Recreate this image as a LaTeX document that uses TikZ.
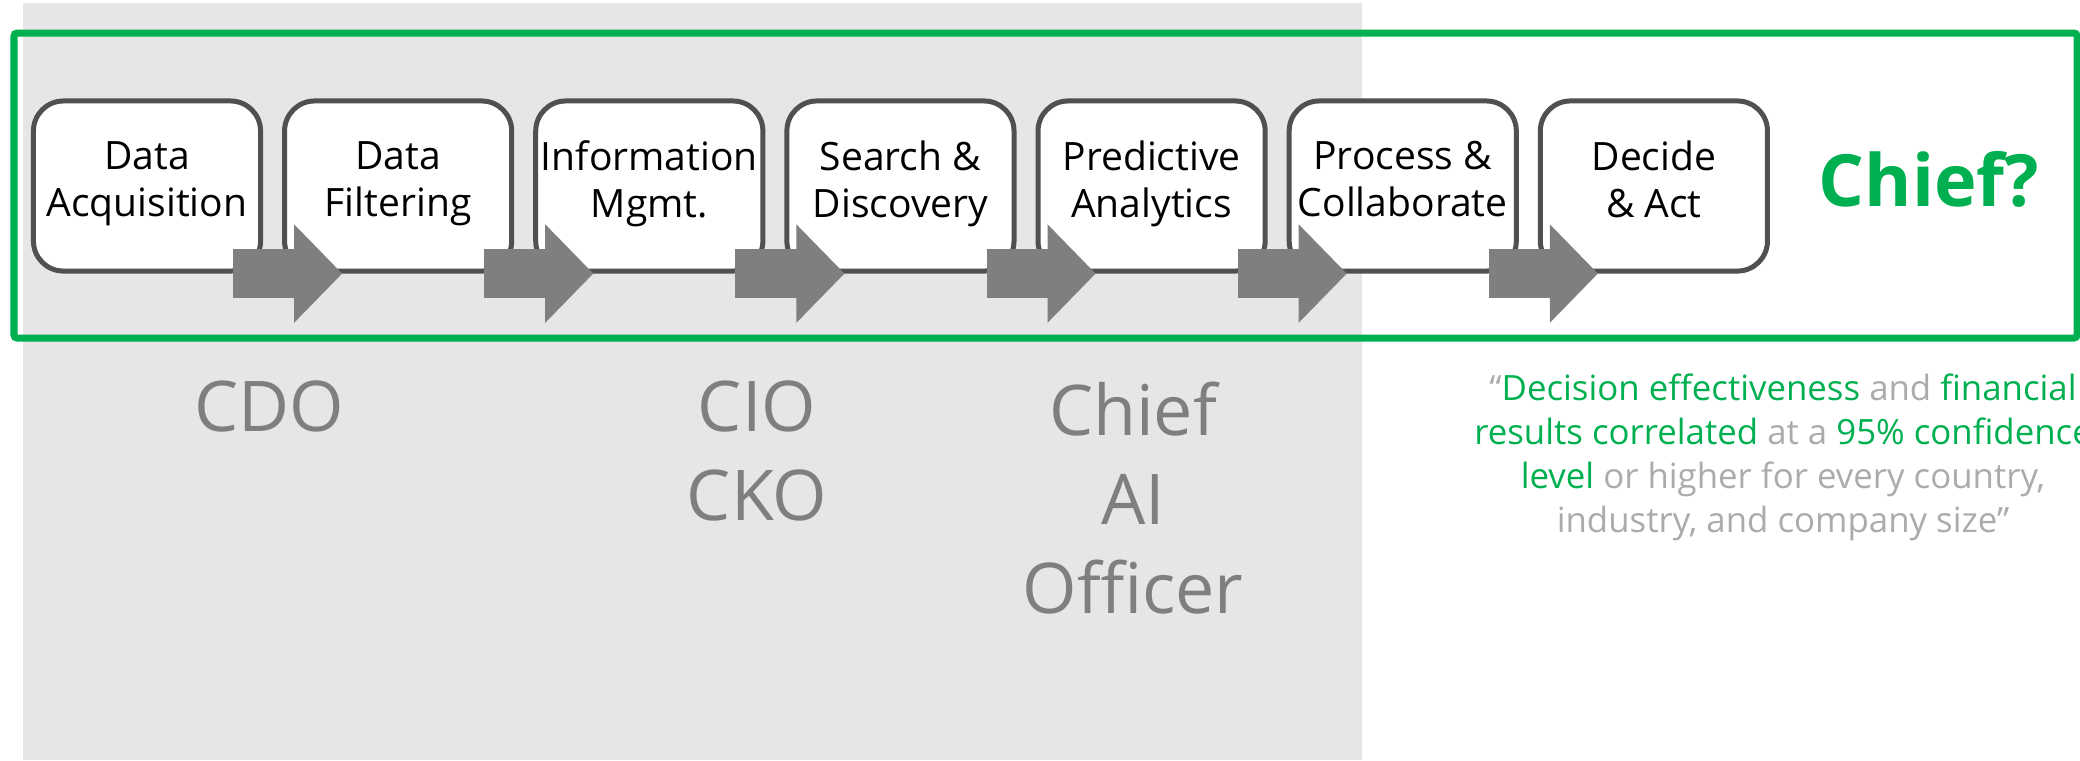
\documentclass[tikz,border=0pt]{standalone}
\usepackage{fontspec}
\setmainfont{Open Sans}
\usetikzlibrary{positioning, calc, arrows.meta}
\definecolor{offgreen}{HTML}{00B050}
\definecolor{boxline}{HTML}{505050}
\definecolor{arrgray}{HTML}{7F7F7F}
\definecolor{panelgray}{HTML}{E7E6E6}
\definecolor{rolegray}{HTML}{7F7F7F}
\definecolor{quotegray}{HTML}{ABABAB}
\tikzset{stage/.style={draw=boxline, line width=0.05cm, fill=white, rounded corners=0.3cm, minimum width=2.27cm, minimum height=1.70cm, inner sep=0.02cm, align=center, font=\fontsize{11.1}{13.4}\selectfont, execute at end node=\strut}}
\tikzset{blockarr/.style={draw=arrgray, line width=0.49cm, -{Triangle[length=0.48cm, width=0.98cm, line width=0.02cm]}}}
\tikzset{role/.style={text=rolegray, align=center, font=\fontsize{19.9}{25.3}\selectfont}}
\tikzset{quote/.style={text=quotegray, align=center, font=\fontsize{9.9}{12.5}\selectfont}}
\newcommand{\hl}[1]{\textcolor{offgreen}{#1}}

\begin{document}
\begin{tikzpicture}[x=0.01cm, y=0.01cm]
			\useasboundingbox (0,0) rectangle (2080,-760);
			\fill[panelgray] (23,-3) rectangle (1362,-760);
			\draw[offgreen, line width=0.07cm, rounded corners=0.03cm] (14,-33) rectangle (2077,-338);
			%
			\node[stage] (acq) at (147,-186) {Data\\Acquisition};
			\node[stage, right=0.19cm of acq] (filt) {Data\\Filtering};
			\node[stage, right=0.19cm of filt] (info) {Information\\Mgmt.};
			\node[stage, right=0.19cm of info] (srch) {Search \&\\Discovery};
			\node[stage, right=0.19cm of srch] (pred) {Predictive\\Analytics};
			\node[stage, right=0.19cm of pred] (proc) {Process \&\\Collaborate};
			\node[stage, right=0.19cm of proc] (dec) {Decide\\\& Act};
			%
			\draw[blockarr] ([xshift=-0.3cm]acq.south east) -- ([xshift=0.6cm]filt.south west);
			\draw[blockarr] ([xshift=-0.3cm]filt.south east) -- ([xshift=0.6cm]info.south west);
			\draw[blockarr] ([xshift=-0.3cm]info.south east) -- ([xshift=0.6cm]srch.south west);
			\draw[blockarr] ([xshift=-0.3cm]srch.south east) -- ([xshift=0.6cm]pred.south west);
			\draw[blockarr] ([xshift=-0.3cm]pred.south east) -- ([xshift=0.6cm]proc.south west);
			\draw[blockarr] ([xshift=-0.3cm]proc.south east) -- ([xshift=0.6cm]dec.south west);
			%
			\node[text=offgreen, font=\bfseries\fontsize{20.5}{24}\selectfont] (chief) at (1929,-179) {Chief?};
			\node[role] (cdo) at (269,-406) {CDO};
			\node[role] (cio) at (757,-451) {CIO\\CKO};
			\node[role] (caio) at (1133,-498) {Chief\\AI\\Officer};
			\node[quote] (qt) at (1783,-457) {“\hl{Decision effectiveness} and \hl{financial}\\
				\hl{results correlated} at a \hl{95\% confidence}\\
				\hl{level} or higher for every country,\\
				industry, and company size”};
		\end{tikzpicture}
\end{document}
